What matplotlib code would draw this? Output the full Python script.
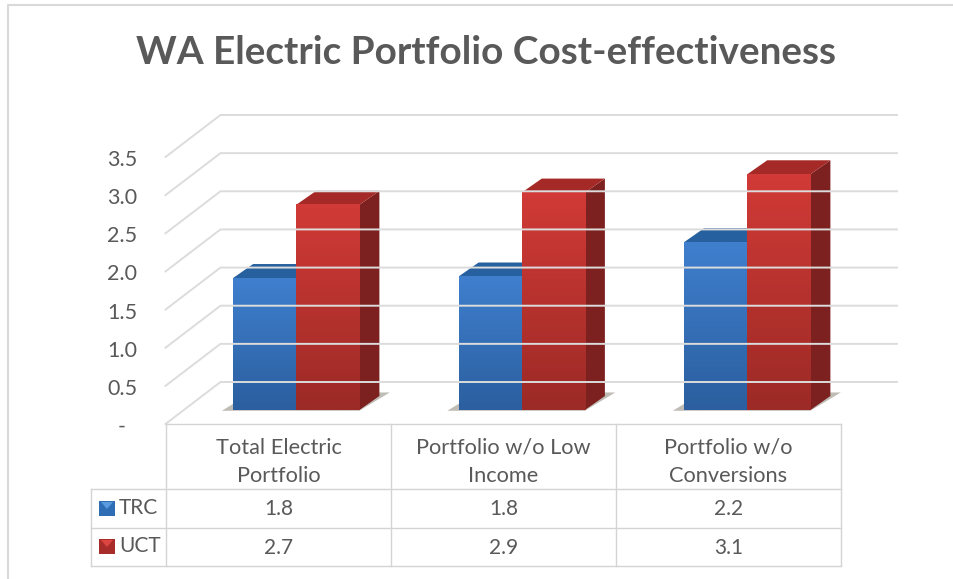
import numpy as np
import matplotlib
matplotlib.use('Agg')
import matplotlib.pyplot as plt
from matplotlib.patches import Polygon, Rectangle
from matplotlib.transforms import Affine2D

plt.rcParams['font.family'] = ['Lato', 'DejaVu Sans']

# Data
title = 'WA Electric Portfolio Cost-effectiveness'
categories = ['Total Electric\nPortfolio', 'Portfolio w/o Low\nIncome', 'Portfolio w/o\nConversions']
series_names = ['TRC', 'UCT']
trc_heights = [1.73, 1.75, 2.20]
uct_heights = [2.69, 2.85, 3.09]
trc_labels = ['1.8', '1.8', '2.2']
uct_labels = ['2.7', '2.9', '3.1']
y_ticks = [0, 0.5, 1.0, 1.5, 2.0, 2.5, 3.0, 3.5]
y_tick_labels = ['-', '0.5', '1.0', '1.5', '2.0', '2.5', '3.0', '3.5']

W, H = 954, 579
TEXT = '#595959'
GRID = '#dcdcdc'
TABLE = '#d4d4d4'


def px_x(x):
    return x / W


def px_y(y):
    return 1 - y / H


def line(xs, ys, color, lw):
    fig.add_artist(plt.Line2D([px_x(x) for x in xs], [px_y(y) for y in ys], color=color, lw=lw))


fig = plt.figure(figsize=(W / 100, H / 100), dpi=100, facecolor='white')

# outer frame, only top and left show
line([8, 8, W], [H, 5, 5], '#d9d9d9', 1.5)

# plane of the bar fronts
ax = fig.add_axes([px_x(183.5), px_y(410), px_x(860) - px_x(183.5), px_y(143) - px_y(410)])
ax.set_xlim(0, 3)
ax.set_ylim(0, 3.5)
ax.axis('off')

front = ax.transData + Affine2D().translate(-18, -14)
back = ax.transData + Affine2D().translate(37, 28)
depth = ax.transData + Affine2D().translate(20, 14)

# walls
for v in y_ticks:
    x0, y0 = front.transform((0, v))
    x1, y1 = back.transform((0, v))
    x2, y2 = back.transform((3, v))
    fig.add_artist(plt.Line2D([x0 / W, x1 / W, x2 / W], [y0 / H, y1 / H, y2 / H],
                              color=GRID, lw=1.4, zorder=1))

# tick labels
for v, lab in zip(y_ticks, y_tick_labels):
    x0, y0 = front.transform((0, v))
    right = 126 if lab == '-' else 137
    fig.text(right / W, (y0 - 3) / H, lab, ha='right', va='center', fontsize=15.5, color=TEXT)

bar_w = 0.28


def gradient(c_top, c_bot):
    top = np.array(matplotlib.colors.to_rgb(c_top))
    bot = np.array(matplotlib.colors.to_rgb(c_bot))
    t = np.linspace(0, 1, 64)[:, None]
    return (top * (1 - t) + bot * t)[:, None, :]


def bar3d(x0, v, c_top, c_bot, c_cap, c_side):
    x1 = x0 + bar_w
    # side
    s = [ax.transData.transform((x1, 0)), ax.transData.transform((x1, v)),
         depth.transform((x1, v)), depth.transform((x1, 0))]
    ax.add_patch(Polygon(s, closed=True, transform=None, fc=c_side, ec='none', zorder=3))
    # cap
    c = [ax.transData.transform((x0, v)), ax.transData.transform((x1, v)),
         depth.transform((x1, v)), depth.transform((x0, v))]
    ax.add_patch(Polygon(c, closed=True, transform=None, fc=c_cap, ec='none', zorder=3))
    # front with a vertical gradient
    ax.imshow(gradient(c_top, c_bot), extent=[x0, x1, 0, v], aspect='auto', zorder=4,
              interpolation='bilinear')


for i in range(3):
    c = i + 0.5
    # shadow on the floor, one per pair
    ax.add_patch(Polygon([(c - bar_w - 0.05, -0.01), (c + bar_w, -0.01), (c + bar_w + 0.135, 0.23),
                          (c + bar_w + 0.08, 0.23), (c - bar_w, 0.08)],
                         closed=True, fc='#bfbcb6', ec='none', zorder=2, clip_on=False))
    bar3d(c - bar_w, trc_heights[i], '#3f7fce', '#2b5f9f', '#27609f', '#1f4f85')
    bar3d(c, uct_heights[i], '#d13a36', '#9c2a26', '#a52a27', '#7c211f')
ax.set_xlim(0, 3)
ax.set_ylim(0, 3.5)

# data table
col_x = [166, 391, 616, 841]
row_y = [424, 489, 528, 566]
for x in col_x:
    line([x, x], [424, 566], TABLE, 1)
line([91, 91], [489, 566], TABLE, 1)
line([166, 841], [424, 424], TABLE, 1)
for y in row_y[1:]:
    line([91, 841], [y, y], TABLE, 1)

for i in range(3):
    cx = (col_x[i] + col_x[i + 1]) / 2
    fig.text(px_x(cx), px_y(462), categories[i], ha='center', va='center', fontsize=15.7,
             color=TEXT, linespacing=1.5)
    fig.text(px_x(cx), px_y(509), trc_labels[i], ha='center', va='center', fontsize=15, color=TEXT)
    fig.text(px_x(cx), px_y(548), uct_labels[i], ha='center', va='center', fontsize=15, color=TEXT)

# legend keys inside the table
keys = [('#2f6db5', '#5a9be0'), ('#a82c29', '#dd4541')]
for name, y, (col, light) in zip(series_names, [508, 546], keys):
    fig.add_artist(Rectangle((px_x(99), px_y(y + 8)), 16 / W, 15 / H, transform=fig.transFigure,
                             fc=col, ec='none'))
    fig.add_artist(Polygon([(px_x(101), px_y(y - 6)), (px_x(113), px_y(y - 6)), (px_x(107), px_y(y + 1))],
                           closed=True, transform=fig.transFigure, fc=light, ec='none'))
    fig.text(px_x(119), px_y(y), name, ha='left', va='center', fontsize=15, color=TEXT)

fig.text(px_x(486.5), px_y(53), title, ha='center', va='center', fontsize=27.9,
         fontweight='bold', color=TEXT)

fig.savefig('out.png', dpi=100)
